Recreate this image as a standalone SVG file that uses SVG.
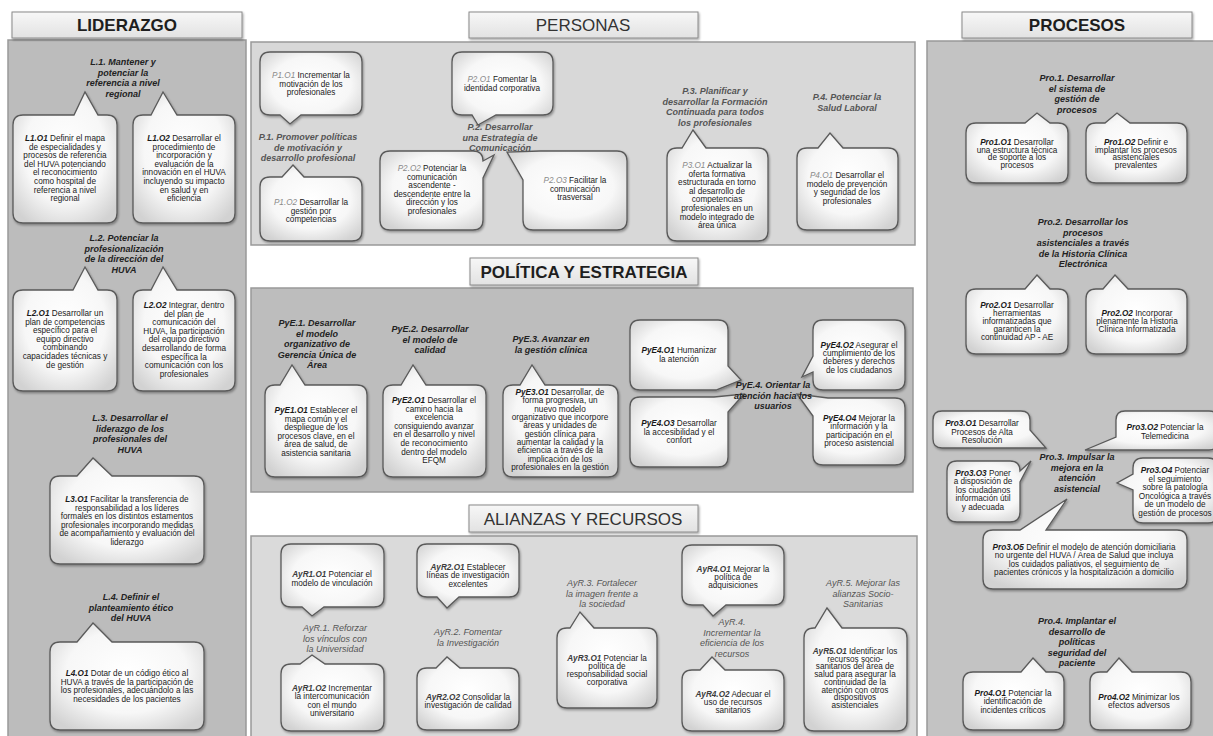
<svg xmlns="http://www.w3.org/2000/svg" width="1213" height="736" viewBox="0 0 1213 736">
<defs>
<radialGradient id="bg" cx="50%" cy="45%" r="65%">
<stop offset="0" stop-color="#ffffff"/><stop offset="0.6" stop-color="#f7f7f7"/><stop offset="1" stop-color="#d2d2d2"/>
</radialGradient>
<linearGradient id="tg" x1="0" y1="0" x2="0" y2="1">
<stop offset="0" stop-color="#f7f7f7"/><stop offset="1" stop-color="#e2e2e2"/>
</linearGradient>
<filter id="sh" x="-10%" y="-10%" width="125%" height="125%">
<feDropShadow dx="1" dy="1.5" stdDeviation="1.1" flood-color="#000" flood-opacity="0.35"/>
</filter>
<style>
.box{fill:url(#bg);stroke:#5a5a5a;stroke-width:1.3;filter:url(#sh)}
.panel{stroke:#999;stroke-width:1.5}
.tb{fill:url(#tg);stroke:#8a8a8a;stroke-width:1;filter:url(#sh)}
.b{font-family:"Liberation Sans",Arial,sans-serif;font-size:8.2px;fill:#1a1a1a;text-anchor:middle}
.c{font-weight:bold;font-style:italic}
.cp{font-style:italic;fill:#8a8a8a}
.ca{font-weight:bold;font-style:italic;fill:#3c3c3c}
.h{font-family:"Liberation Sans",Arial,sans-serif;font-size:9px;font-weight:bold;font-style:italic;fill:#222;text-anchor:middle}
.hp{fill:#555}
.ha{fill:#555;font-weight:normal}
.ttl{font-family:"Liberation Sans",Arial,sans-serif;font-size:17px;font-weight:bold;fill:#1e1e1e;text-anchor:middle}
.ttr{font-weight:normal;fill:#333}
</style>
</defs>
<rect width="1213" height="736" fill="#ffffff"/>

<g id="panels">
<rect class="panel" x="8" y="40" width="238" height="700" fill="#bcbcbc"/>
<rect class="panel" x="251" y="42" width="664" height="203" fill="#d8d8d8"/>
<rect class="panel" x="251" y="288" width="662" height="204" fill="#bdbdbd"/>
<rect class="panel" x="251" y="536" width="666" height="205" fill="#dadada"/>
<rect class="panel" x="927" y="41" width="290" height="700" fill="#c3c3c3"/>
</g>

<g id="title-liderazgo"><rect class="tb" x="12" y="12" width="230" height="26"/><text class="ttl" x="127" y="31">LIDERAZGO</text></g>
<g id="title-personas"><rect class="tb" x="469" y="12" width="229" height="26"/><text class="ttl ttr" x="583" y="31">PERSONAS</text></g>
<g id="title-politica"><rect class="tb" x="470" y="258" width="228" height="27"/><text class="ttl" x="584" y="278">POLÍTICA Y ESTRATEGIA</text></g>
<g id="title-alianzas"><rect class="tb" x="469" y="505" width="229" height="27"/><text class="ttl ttr" x="583" y="525">ALIANZAS Y RECURSOS</text></g>
<g id="title-procesos"><rect class="tb" x="962" y="12" width="230" height="26"/><text class="ttl" x="1077" y="31">PROCESOS</text></g>

<g id="connectors"/>

<!-- LIDERAZGO -->
<g id="L1O1"><path class="box" d="M23,115 H74 L85,92 L98,115 H107 Q117,115 117,125 V213 Q117,223 107,223 H23 Q13,223 13,213 V125 Q13,115 23,115 Z"/>
<text class="b" x="65" y="141"><tspan class="c">L1.O1</tspan> Definir el mapa<tspan x="65" dy="8.6">de especialidades y</tspan><tspan x="65" dy="8.6">procesos de referencia</tspan><tspan x="65" dy="8.6">del HUVA potenciando</tspan><tspan x="65" dy="8.6">el reconocimiento</tspan><tspan x="65" dy="8.6">como hospital de</tspan><tspan x="65" dy="8.6">referencia a nivel</tspan><tspan x="65" dy="8.6">regional</tspan></text></g>
<g id="L1O2"><path class="box" d="M143,115 H151 L163,92 L177,115 H225 Q235,115 235,125 V213 Q235,223 225,223 H143 Q133,223 133,213 V125 Q133,115 143,115 Z"/>
<text class="b" x="184" y="141"><tspan class="c">L1.O2</tspan> Desarrollar el<tspan x="184" dy="8.6">procedimiento de</tspan><tspan x="184" dy="8.6">incorporación y</tspan><tspan x="184" dy="8.6">evaluación de la</tspan><tspan x="184" dy="8.6">innovación en el HUVA</tspan><tspan x="184" dy="8.6">incluyendo su impacto</tspan><tspan x="184" dy="8.6">en salud y en</tspan><tspan x="184" dy="8.6">eficiencia</tspan></text></g>
<g id="L2O1"><path class="box" d="M23,290 H73 L85,267 L98,290 H107 Q117,290 117,300 V381 Q117,391 107,391 H23 Q13,391 13,381 V300 Q13,290 23,290 Z"/>
<text class="b" x="65" y="316"><tspan class="c">L2.O1</tspan> Desarrollar un<tspan x="65" dy="8.6">plan de competencias</tspan><tspan x="65" dy="8.6">específico para el</tspan><tspan x="65" dy="8.6">equipo directivo</tspan><tspan x="65" dy="8.6">combinando</tspan><tspan x="65" dy="8.6">capacidades técnicas y</tspan><tspan x="65" dy="8.6">de gestión</tspan></text></g>
<g id="L2O2"><path class="box" d="M143,290 H151 L163,267 L177,290 H225 Q235,290 235,300 V381 Q235,391 225,391 H143 Q133,391 133,381 V300 Q133,290 143,290 Z"/>
<text class="b" x="184" y="308"><tspan class="c">L2.O2</tspan> Integrar, dentro<tspan x="184" dy="8.6">del plan de</tspan><tspan x="184" dy="8.6">comunicación del</tspan><tspan x="184" dy="8.6">HUVA, la participación</tspan><tspan x="184" dy="8.6">del equipo directivo</tspan><tspan x="184" dy="8.6">desarrollando de forma</tspan><tspan x="184" dy="8.6">específica la</tspan><tspan x="184" dy="8.6">comunicación con los</tspan><tspan x="184" dy="8.6">profesionales</tspan></text></g>
<g id="L3O1"><path class="box" d="M60,476 H77 L93,458 L112,476 H194 Q204,476 204,486 V554 Q204,564 194,564 H60 Q50,564 50,554 V486 Q50,476 60,476 Z"/>
<text class="b" x="127" y="502"><tspan class="c">L3.O1</tspan> Facilitar la transferencia de<tspan x="127" dy="8.6">responsabilidad a los líderes</tspan><tspan x="127" dy="8.6">formales en los distintos estamentos</tspan><tspan x="127" dy="8.6">profesionales incorporando medidas</tspan><tspan x="127" dy="8.6">de acompañamiento y evaluación del</tspan><tspan x="127" dy="8.6">liderazgo</tspan></text></g>
<g id="L4O1"><path class="box" d="M60,642 H77 L93,623 L112,642 H194 Q204,642 204,652 V720 Q204,730 194,730 H60 Q50,730 50,720 V652 Q50,642 60,642 Z"/>
<text class="b" x="127" y="676"><tspan class="c">L4.O1</tspan> Dotar de un código ético al<tspan x="127" dy="8.6">HUVA a través de la participación de</tspan><tspan x="127" dy="8.6">los profesionales,  adecuándolo a las</tspan><tspan x="127" dy="8.6">necesidades de los pacientes</tspan></text></g>

<!-- PERSONAS -->
<g id="P1O1"><path class="box" d="M270,52 H352 Q362,52 362,62 V105 Q362,115 352,115 H301 L290,124 L280,115 H270 Q260,115 260,105 V62 Q260,52 270,52 Z"/>
<text class="b" x="311" y="78"><tspan class="cp">P1.O1</tspan> Incrementar la<tspan x="311" dy="8.6">motivación de los</tspan><tspan x="311" dy="8.6">profesionales</tspan></text></g>
<g id="P1O2"><path class="box" d="M270,177 H282 L293,165 L304,177 H352 Q362,177 362,187 V231 Q362,241 352,241 H270 Q260,241 260,231 V187 Q260,177 270,177 Z"/>
<text class="b" x="311" y="205"><tspan class="cp">P1.O2</tspan> Desarrollar la<tspan x="311" dy="8.6">gestión por</tspan><tspan x="311" dy="8.6">competencias</tspan></text></g>
<g id="P2O1"><path class="box" d="M462,52 H543 Q553,52 553,62 V105 Q553,115 543,115 H496 L478,125 L472,115 H462 Q452,115 452,105 V62 Q452,52 462,52 Z"/>
<text class="b" x="502" y="82"><tspan class="cp">P2.O1</tspan> Fomentar la<tspan x="502" dy="8.6">identidad corporativa</tspan></text></g>
<g id="P2O2"><path class="box" d="M390,151 H473 Q483,151 483,161 L494,155 L483,178 V220 Q483,230 473,230 H390 Q380,230 380,220 V161 Q380,151 390,151 Z"/>
<text class="b" x="432" y="171"><tspan class="cp">P2.O2</tspan> Potenciar la<tspan x="432" dy="8.6">comunicación</tspan><tspan x="432" dy="8.6">ascendente -</tspan><tspan x="432" dy="8.6">descendente entre la</tspan><tspan x="432" dy="8.6">dirección y los</tspan><tspan x="432" dy="8.6">profesionales</tspan></text></g>
<g id="P2O3"><path class="box" d="M540,151 H617 Q627,151 627,161 V220 Q627,230 617,230 H533 Q523,230 523,220 V180 L507,152 L540,151 Z"/>
<text class="b" x="575" y="183"><tspan class="cp">P2.O3</tspan> Facilitar la<tspan x="575" dy="8.6">comunicación</tspan><tspan x="575" dy="8.6">trasversal</tspan></text></g>
<g id="P3O1"><path class="box" d="M677,148 H682 L693,130 L706,148 H758 Q768,148 768,158 V231 Q768,241 758,241 H677 Q667,241 667,231 V158 Q667,148 677,148 Z"/>
<text class="b" x="717" y="168"><tspan class="cp">P3.O1</tspan> Actualizar la<tspan x="717" dy="8.6">oferta formativa</tspan><tspan x="717" dy="8.6">estructurada en torno</tspan><tspan x="717" dy="8.6">al desarrollo de</tspan><tspan x="717" dy="8.6">competencias</tspan><tspan x="717" dy="8.6">profesionales en un</tspan><tspan x="717" dy="8.6">modelo integrado de</tspan><tspan x="717" dy="8.6">área única</tspan></text></g>
<g id="P4O1"><path class="box" d="M807,148 H818 L830,133 L843,148 H888 Q898,148 898,158 V220 Q898,230 888,230 H807 Q797,230 797,220 V158 Q797,148 807,148 Z"/>
<text class="b" x="847" y="178"><tspan class="cp">P4.O1</tspan> Desarrollar el<tspan x="847" dy="8.6">modelo de prevención</tspan><tspan x="847" dy="8.6">y seguridad de los</tspan><tspan x="847" dy="8.6">profesionales</tspan></text></g>

<!-- POLITICA Y ESTRATEGIA -->
<g id="PyE1O1"><path class="box" d="M275,385 H280 L292,365 L305,385 H357 Q367,385 367,395 V467 Q367,477 357,477 H275 Q265,477 265,467 V395 Q265,385 275,385 Z"/>
<text class="b" x="316" y="413"><tspan class="c">PyE1.O1</tspan> Establecer el<tspan x="316" dy="8.6">mapa común y el</tspan><tspan x="316" dy="8.6">despliegue de los</tspan><tspan x="316" dy="8.6">procesos clave, en el</tspan><tspan x="316" dy="8.6">área de salud, de</tspan><tspan x="316" dy="8.6">asistencia sanitaria</tspan></text></g>
<g id="PyE2O1"><path class="box" d="M393,385 H401 L413,365 L426,385 H476 Q486,385 486,395 V467 Q486,477 476,477 H393 Q383,477 383,467 V395 Q383,385 393,385 Z"/>
<text class="b" x="434" y="403"><tspan class="c">PyE2.O1</tspan> Desarrollar el<tspan x="434" dy="8.6">camino hacia la</tspan><tspan x="434" dy="8.6">excelencia</tspan><tspan x="434" dy="8.6">consiguiendo avanzar</tspan><tspan x="434" dy="8.6">en el desarrollo y nivel</tspan><tspan x="434" dy="8.6">de reconocimiento</tspan><tspan x="434" dy="8.6">dentro del modelo</tspan><tspan x="434" dy="8.6">EFQM</tspan></text></g>
<g id="PyE3O1"><path class="box" d="M513,385 H520 L532,365 L545,385 H608 Q618,385 618,395 V467 Q618,477 608,477 H513 Q503,477 503,467 V395 Q503,385 513,385 Z"/>
<text class="b" x="560" y="395"><tspan class="c">PyE3.O1</tspan> Desarrollar, de<tspan x="560" dy="8.35">forma progresiva, un</tspan><tspan x="560" dy="8.35">nuevo modelo</tspan><tspan x="560" dy="8.35">organizativo que incorpore</tspan><tspan x="560" dy="8.35">áreas y unidades de</tspan><tspan x="560" dy="8.35">gestión clínica para</tspan><tspan x="560" dy="8.35">aumentar la calidad y la</tspan><tspan x="560" dy="8.35">eficiencia a través de la</tspan><tspan x="560" dy="8.35">implicación de los</tspan><tspan x="560" dy="8.35">profesionales en la gestión</tspan></text></g>
<g id="PyE4O1"><path class="box" d="M640,320 H718 Q728,320 728,330 V366 L741,380 L716,390 H640 Q630,390 630,380 V330 Q630,320 640,320 Z"/>
<text class="b" x="679" y="353"><tspan class="c">PyE4.O1</tspan> Humanizar<tspan x="679" dy="8.6">la atención</tspan></text></g>
<g id="PyE4O3"><path class="box" d="M640,397 H714 L744,394 L728,412 V457 Q728,467 718,467 H640 Q630,467 630,457 V407 Q630,397 640,397 Z"/>
<text class="b" x="679" y="426"><tspan class="c">PyE4.O3</tspan> Desarrollar<tspan x="679" dy="8.6">la accesibilidad y el</tspan><tspan x="679" dy="8.6">confort</tspan></text></g>
<g id="PyE4O2"><path class="box" d="M823,320 H895 Q905,320 905,330 V380 Q905,390 895,390 H823 Q813,390 813,380 V372 L802,377 L813,356 V330 Q813,320 823,320 Z"/>
<text class="b" x="859" y="348"><tspan class="c">PyE4.O2</tspan> Asegurar el<tspan x="859" dy="8.2">cumplimiento de los</tspan><tspan x="859" dy="8.2">deberes y derechos</tspan><tspan x="859" dy="8.2">de los ciudadanos</tspan></text></g>
<g id="PyE4O4"><path class="box" d="M828,398 H895 Q905,398 905,408 V455 Q905,465 895,465 H823 Q813,465 813,455 V416 L797,394 L828,398 Z"/>
<text class="b" x="859" y="421"><tspan class="c">PyE4.O4</tspan> Mejorar la<tspan x="859" dy="8.4">información y la</tspan><tspan x="859" dy="8.4">participación en el</tspan><tspan x="859" dy="8.4">proceso asistencial</tspan></text></g>

<!-- ALIANZAS Y RECURSOS -->
<g id="AyR1O1"><path class="box" d="M291,544 H374 Q384,544 384,554 V597 Q384,607 374,607 H324 L312,616 L302,607 H291 Q281,607 281,597 V554 Q281,544 291,544 Z"/>
<text class="b" x="332" y="577"><tspan class="ca">AyR1.O1</tspan> Potenciar el<tspan x="332" dy="8.6">modelo de vinculación</tspan></text></g>
<g id="AyR1O2"><path class="box" d="M291,664 H300 L312,655 L325,664 H374 Q384,664 384,674 V721 Q384,731 374,731 H291 Q281,731 281,721 V674 Q281,664 291,664 Z"/>
<text class="b" x="332" y="691"><tspan class="ca">AyR1.O2</tspan> Incrementar<tspan x="332" dy="8.4">la intercomunicación</tspan><tspan x="332" dy="8.4">con el mundo</tspan><tspan x="332" dy="8.4">universitario</tspan></text></g>
<g id="AyR2O1"><path class="box" d="M427,544 H509 Q519,544 519,554 V587 Q519,597 509,597 H459 L447,608 L437,597 H427 Q417,597 417,587 V554 Q417,544 427,544 Z"/>
<text class="b" x="468" y="570"><tspan class="ca">AyR2.O1</tspan> Establecer<tspan x="468" dy="8.4">líneas de investigación</tspan><tspan x="468" dy="8.4">excelentes</tspan></text></g>
<g id="AyR2O2"><path class="box" d="M427,668 H436 L447,657 L460,668 H509 Q519,668 519,678 V720 Q519,730 509,730 H427 Q417,730 417,720 V678 Q417,668 427,668 Z"/>
<text class="b" x="468" y="700"><tspan class="ca">AyR2.O2</tspan> Consolidar la<tspan x="468" dy="8.4">investigación de calidad</tspan></text></g>
<g id="AyR3O1"><path class="box" d="M567,628 H570 L580,612 L594,628 H647 Q657,628 657,638 V698 Q657,708 647,708 H567 Q557,708 557,698 V638 Q557,628 567,628 Z"/>
<text class="b" x="607" y="661"><tspan class="ca">AyR3.O1</tspan> Potenciar la<tspan x="607" dy="8">política de</tspan><tspan x="607" dy="8">responsabilidad social</tspan><tspan x="607" dy="8">corporativa</tspan></text></g>
<g id="AyR4O1"><path class="box" d="M692,545 H774 Q784,545 784,555 V595 Q784,605 774,605 H726 L713,616 L703,605 H692 Q682,605 682,595 V555 Q682,545 692,545 Z"/>
<text class="b" x="733" y="572"><tspan class="ca">AyR4.O1</tspan> Mejorar la<tspan x="733" dy="8">política de</tspan><tspan x="733" dy="8">adquisiciones</tspan></text></g>
<g id="AyR4O2"><path class="box" d="M692,670 H700 L712,657 L725,670 H774 Q784,670 784,680 V721 Q784,731 774,731 H692 Q682,731 682,721 V680 Q682,670 692,670 Z"/>
<text class="b" x="733" y="697"><tspan class="ca">AyR4.O2</tspan> Adecuar el<tspan x="733" dy="8">uso de recursos</tspan><tspan x="733" dy="8">sanitarios</tspan></text></g>
<g id="AyR5O1"><path class="box" d="M814,628 H815 L827,608 L842,628 H897 Q907,628 907,638 V721 Q907,731 897,731 H814 Q804,731 804,721 V638 Q804,628 814,628 Z"/>
<text class="b" x="855" y="654"><tspan class="ca">AyR5.O1</tspan> Identificar los<tspan x="855" dy="7.7">recursos socio-</tspan><tspan x="855" dy="7.7">sanitarios del área de</tspan><tspan x="855" dy="7.7">salud para asegurar la</tspan><tspan x="855" dy="7.7">continuidad de la</tspan><tspan x="855" dy="7.7">atención con otros</tspan><tspan x="855" dy="7.7">dispositivos</tspan><tspan x="855" dy="7.7">asistenciales</tspan></text></g>

<!-- PROCESOS -->
<g id="Pro1O1"><path class="box" d="M976,123 H1025 L1037,113 L1050,123 H1058 Q1068,123 1068,133 V173 Q1068,183 1058,183 H976 Q966,183 966,173 V133 Q966,123 976,123 Z"/>
<text class="b" x="1017" y="145"><tspan class="c">Pro1.O1</tspan> Desarrollar<tspan x="1017" dy="7.6">una estructura técnica</tspan><tspan x="1017" dy="7.6">de soporte a los</tspan><tspan x="1017" dy="7.6">procesos</tspan></text></g>
<g id="Pro1O2"><path class="box" d="M1096,123 H1105 L1117,113 L1130,123 H1177 Q1187,123 1187,133 V173 Q1187,183 1177,183 H1096 Q1086,183 1086,173 V133 Q1086,123 1096,123 Z"/>
<text class="b" x="1136" y="145"><tspan class="c">Pro1.O2</tspan> Definir e<tspan x="1136" dy="7.6">implantar los procesos</tspan><tspan x="1136" dy="7.6">asistenciales</tspan><tspan x="1136" dy="7.6">prevalentes</tspan></text></g>
<g id="Pro2O1"><path class="box" d="M976,289 H1025 L1037,275 L1050,289 H1058 Q1068,289 1068,299 V344 Q1068,354 1058,354 H976 Q966,354 966,344 V299 Q966,289 976,289 Z"/>
<text class="b" x="1017" y="308"><tspan class="c">Pro2.O1</tspan> Desarrollar<tspan x="1017" dy="8">herramientas</tspan><tspan x="1017" dy="8">informatizadas que</tspan><tspan x="1017" dy="8">garanticen la</tspan><tspan x="1017" dy="8">continuidad AP - AE</tspan></text></g>
<g id="Pro2O2"><path class="box" d="M1096,289 H1103 L1115,275 L1128,289 H1177 Q1187,289 1187,299 V344 Q1187,354 1177,354 H1096 Q1086,354 1086,344 V299 Q1086,289 1096,289 Z"/>
<text class="b" x="1137" y="316"><tspan class="c">Pro2.O2</tspan> Incorporar<tspan x="1137" dy="8">plenamente la Historia</tspan><tspan x="1137" dy="8">Clínica Informatizada</tspan></text></g>
<g id="Pro3O1"><path class="box" d="M942,411 H1021 Q1030,411 1030,420 V430 L1046,448 L1020,448 H942 Q933,448 933,439 V420 Q933,411 942,411 Z"/>
<text class="b" x="982" y="426"><tspan class="c">Pro3.O1</tspan> Desarrollar<tspan x="982" dy="8.5">Procesos de Alta</tspan><tspan x="982" dy="8.5">Resolución</tspan></text></g>
<g id="Pro3O2"><path class="box" d="M1125,411 H1209 Q1218,411 1218,420 V441 Q1218,450 1209,450 H1133 L1085,450 L1116,437 V420 Q1116,411 1125,411 Z"/>
<text class="b" x="1165" y="430"><tspan class="c">Pro3.O2</tspan> Potenciar la<tspan x="1165" dy="8.5">Telemedicina</tspan></text></g>
<g id="Pro3O3"><path class="box" d="M957,461 H1010 Q1020,461 1020,471 L1031,461 L1020,482 V512 Q1020,522 1010,522 H957 Q947,522 947,512 V471 Q947,461 957,461 Z"/>
<text class="b" x="983" y="476"><tspan class="c">Pro3.O3</tspan> Poner<tspan x="983" dy="8.4">a disposición de</tspan><tspan x="983" dy="8.4">los ciudadanos</tspan><tspan x="983" dy="8.4">información útil</tspan><tspan x="983" dy="8.4">y adecuada</tspan></text></g>
<g id="Pro3O4"><path class="box" d="M1143,458 H1208 Q1218,458 1218,468 V513 Q1218,523 1208,523 H1143 Q1133,523 1133,513 V490 L1117,483 L1133,474 V468 Q1133,458 1143,458 Z"/>
<text class="b" x="1175" y="473"><tspan class="c">Pro3.O4</tspan> Potenciar<tspan x="1175" dy="8.6">el seguimiento</tspan><tspan x="1175" dy="8.6">sobre la patología</tspan><tspan x="1175" dy="8.6">Oncológica a través</tspan><tspan x="1175" dy="8.6">de un modelo de</tspan><tspan x="1175" dy="8.6">gestión de procesos</tspan></text></g>
<g id="Pro3O5"><path class="box" d="M993,530 H1020 L1067,499 L1046,530 H1177 Q1187,530 1187,540 V579 Q1187,589 1177,589 H993 Q983,589 983,579 V540 Q983,530 993,530 Z"/>
<text class="b" x="1084" y="550"><tspan class="c">Pro3.O5</tspan> Definir el modelo de atención domiciliaria<tspan x="1084" dy="8.4">no urgente del HUVA / Área de Salud que incluya</tspan><tspan x="1084" dy="8.4">los cuidados paliativos, el seguimiento de</tspan><tspan x="1084" dy="8.4">pacientes crónicos y la hospitalización a domicilio</tspan></text></g>
<g id="Pro4O1"><path class="box" d="M973,672 H1021 L1033,658 L1046,672 H1054 Q1064,672 1064,682 V720 Q1064,730 1054,730 H973 Q963,730 963,720 V682 Q963,672 973,672 Z"/>
<text class="b" x="1013" y="696"><tspan class="c">Pro4.O1</tspan> Potenciar la<tspan x="1013" dy="8.4">identificación de</tspan><tspan x="1013" dy="8.4">incidentes críticos</tspan></text></g>
<g id="Pro4O2"><path class="box" d="M1100,672 H1107 L1119,658 L1132,672 H1181 Q1191,672 1191,682 V720 Q1191,730 1181,730 H1100 Q1090,730 1090,720 V682 Q1090,672 1100,672 Z"/>
<text class="b" x="1139" y="700"><tspan class="c">Pro4.O2</tspan> Minimizar los<tspan x="1139" dy="8.4">efectos adversos</tspan></text></g>

<!-- headings (drawn on top of the callouts) -->
<g id="L1"><text class="h" x="123" y="65">L.1. Mantener y<tspan x="123" dy="10.5">potenciar la</tspan><tspan x="123" dy="10.5">referencia a nivel</tspan><tspan x="123" dy="10.5">regional</tspan></text></g>
<g id="L2"><text class="h" x="124" y="241">L.2. Potenciar la<tspan x="124" dy="10.5">profesionalización</tspan><tspan x="124" dy="10.5">de la dirección del</tspan><tspan x="124" dy="10.5">HUVA</tspan></text></g>
<g id="L3"><text class="h" x="130" y="421">L.3. Desarrollar el<tspan x="130" dy="10.5">liderazgo de los</tspan><tspan x="130" dy="10.5">profesionales del</tspan><tspan x="130" dy="10.5">HUVA</tspan></text></g>
<g id="L4"><text class="h" x="131" y="600">L.4. Definir el<tspan x="131" dy="10.5">planteamiento ético</tspan><tspan x="131" dy="10.5">del HUVA</tspan></text></g>
<g id="P1"><text class="h hp" x="308" y="140">P.1. Promover políticas<tspan x="308" dy="10.5">de motivación y</tspan><tspan x="308" dy="10.5">desarrollo profesional</tspan></text></g>
<g id="P2"><text class="h hp" x="500" y="130">P.2. Desarrollar<tspan x="500" dy="10.5">una Estrategia de</tspan><tspan x="500" dy="10.5">Comunicación</tspan></text></g>
<g id="P3"><text class="h hp" x="715" y="94">P.3. Planificar y<tspan x="715" dy="10.5">desarrollar la Formación</tspan><tspan x="715" dy="10.5">Continuada para todos</tspan><tspan x="715" dy="10.5">los profesionales</tspan></text></g>
<g id="P4"><text class="h hp" x="847" y="100">P.4. Potenciar la<tspan x="847" dy="10.5">Salud Laboral</tspan></text></g>
<g id="PyE1"><text class="h" x="317" y="326">PyE.1. Desarrollar<tspan x="317" dy="10.5">el modelo</tspan><tspan x="317" dy="10.5">organizativo de</tspan><tspan x="317" dy="10.5">Gerencia Única de</tspan><tspan x="317" dy="10.5">Área</tspan></text></g>
<g id="PyE2"><text class="h" x="430" y="332">PyE.2. Desarrollar<tspan x="430" dy="10.5">el modelo de</tspan><tspan x="430" dy="10.5">calidad</tspan></text></g>
<g id="PyE3"><text class="h" x="551" y="342">PyE.3. Avanzar en<tspan x="551" dy="10.5">la gestión clínica</tspan></text></g>
<g id="PyE4"><text class="h" x="773" y="388">PyE.4. Orientar la<tspan x="773" dy="10.5">atención hacia los</tspan><tspan x="773" dy="10.5">usuarios</tspan></text></g>
<g id="AyR1"><text class="h ha" x="335" y="631">AyR.1. Reforzar<tspan x="335" dy="10.5">los vínculos con</tspan><tspan x="335" dy="10.5">la Universidad</tspan></text></g>
<g id="AyR2"><text class="h ha" x="468" y="635">AyR.2. Fomentar<tspan x="468" dy="10.5">la Investigación</tspan></text></g>
<g id="AyR3"><text class="h ha" x="602" y="586">AyR.3. Fortalecer<tspan x="602" dy="10.5">la imagen frente a</tspan><tspan x="602" dy="10.5">la sociedad</tspan></text></g>
<g id="AyR4"><text class="h ha" x="732" y="625">AyR.4.<tspan x="732" dy="10.5">Incrementar la</tspan><tspan x="732" dy="10.5">eficiencia de los</tspan><tspan x="732" dy="10.5">recursos</tspan></text></g>
<g id="AyR5"><text class="h ha" x="863" y="586">AyR.5. Mejorar las<tspan x="863" dy="10.5">alianzas Socio-</tspan><tspan x="863" dy="10.5">Sanitarias</tspan></text></g>
<g id="Pro1"><text class="h" x="1077" y="81">Pro.1. Desarrollar<tspan x="1077" dy="10.5">el sistema de</tspan><tspan x="1077" dy="10.5">gestión de</tspan><tspan x="1077" dy="10.5">procesos</tspan></text></g>
<g id="Pro2"><text class="h" x="1083" y="225">Pro.2. Desarrollar los<tspan x="1083" dy="10.5">procesos</tspan><tspan x="1083" dy="10.5">asistenciales a través</tspan><tspan x="1083" dy="10.5">de la Historia Clínica</tspan><tspan x="1083" dy="10.5">Electrónica</tspan></text></g>
<g id="Pro3"><text class="h" x="1077" y="460">Pro.3. Impulsar la<tspan x="1077" dy="10.5">mejora en la</tspan><tspan x="1077" dy="10.5">atención</tspan><tspan x="1077" dy="10.5">asistencial</tspan></text></g>
<g id="Pro4"><text class="h" x="1077" y="624">Pro.4. Implantar el<tspan x="1077" dy="10.5">desarrollo de</tspan><tspan x="1077" dy="10.5">políticas</tspan><tspan x="1077" dy="10.5">seguridad del</tspan><tspan x="1077" dy="10.5">paciente</tspan></text></g>
</svg>
